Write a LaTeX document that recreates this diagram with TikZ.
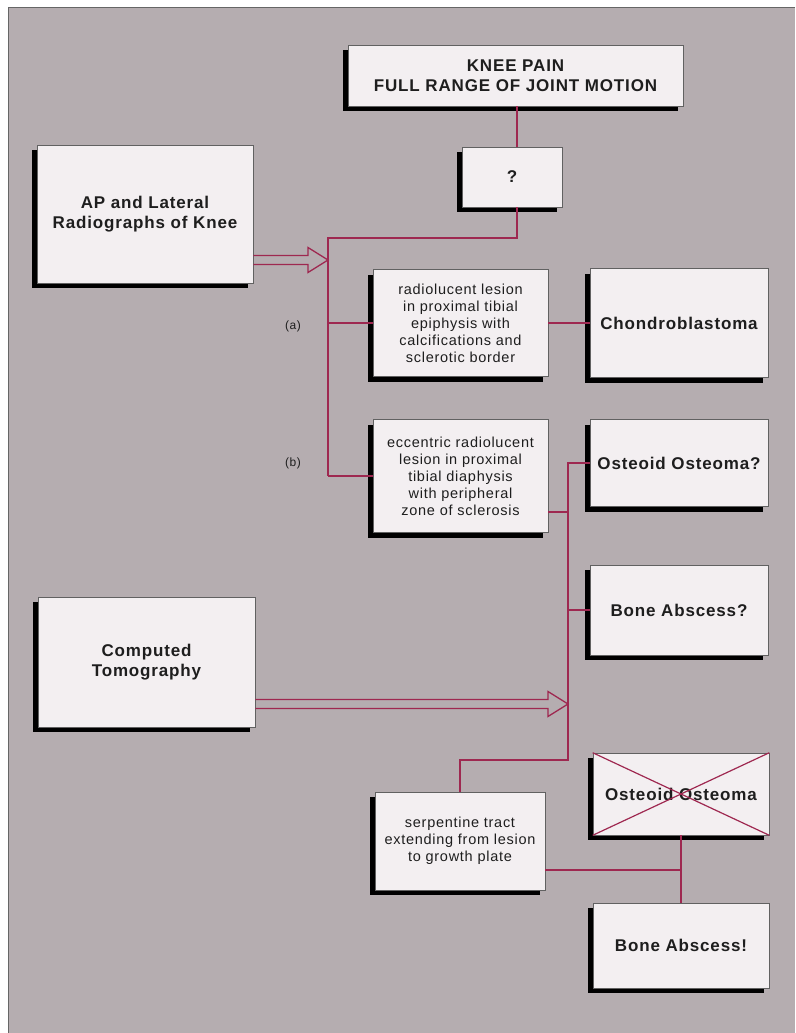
\documentclass[tikz,border=0pt]{standalone}
\usepackage{fontspec}
\setmainfont{Liberation Sans}[LetterSpace=5]
\usetikzlibrary{shadows}
\definecolor{panel}{HTML}{B5ADB0}
\definecolor{boxfill}{HTML}{F3EFF1}
\definecolor{wire}{HTML}{9E2850}
\definecolor{ink}{HTML}{1E1E1E}
\tikzset{
  card/.style={draw=ink!70, line width=0.6pt, fill=boxfill, text=ink,
    align=center, inner sep=2pt,
    drop shadow={shadow xshift=-5pt, shadow yshift=-5pt, opacity=1, fill=black}},
  bigcard/.style={card, font=\fontsize{17}{20}\selectfont\bfseries},
  notecard/.style={card, font=\fontsize{14.5}{17}\selectfont},
  wire/.style={draw=wire, line width=1.6pt},
  hollowline/.style={draw=wire, line width=1.3pt, line join=miter},
  tag/.style={text=ink, font=\fontsize{12}{14}\selectfont}
}
\begin{document}
\begin{tikzpicture}[x=1pt, y=-1pt]
  % page and grey panel
  \useasboundingbox (0,0) rectangle (795,1033);
  \fill[white] (0,0) rectangle (795,1033);
  \fill[panel] (8,8) rectangle (795,1033);
  \draw[black!60, line width=1pt] (8,1033) -- (8,8) -- (795,8);

  % boxes
  \node[bigcard, minimum width=335, minimum height=61] (knee) at (515.5,75.5)
    {KNEE PAIN\\FULL RANGE OF JOINT MOTION};
  \node[bigcard, minimum width=100, minimum height=60] (q) at (512,177) {?};
  \node[bigcard, minimum width=216, minimum height=138] (ap) at (145,214)
    {AP and Lateral\\Radiographs of Knee};
  \node[notecard, minimum width=175, minimum height=107] (rad) at (460.5,323)
    {radiolucent lesion\\in proximal tibial\\epiphysis with\\calcifications and\\sclerotic border};
  \node[bigcard, minimum width=178, minimum height=109] (chon) at (679,323)
    {Chondroblastoma};
  \node[notecard, minimum width=175, minimum height=113] (ecc) at (460.5,476)
    {eccentric radiolucent\\lesion in proximal\\tibial diaphysis\\with peripheral\\zone of sclerosis};
  \node[bigcard, minimum width=178, minimum height=87] (ost1) at (679,463)
    {Osteoid Osteoma?};
  \node[bigcard, minimum width=178, minimum height=90] (abs1) at (679,610)
    {Bone Abscess?};
  \node[bigcard, minimum width=217, minimum height=130] (ct) at (146.5,662)
    {Computed\\Tomography};
  \node[notecard, minimum width=170, minimum height=98] (serp) at (460,841)
    {serpentine tract\\extending from lesion\\to growth plate};
  \node[bigcard, minimum width=176, minimum height=82] (ost2) at (681,794)
    {Osteoid Osteoma};
  \node[bigcard, minimum width=176, minimum height=85] (abs2) at (681,945.5)
    {Bone Abscess!};

  % branch labels
  \node[tag] (la) at (293,326) {(a)};
  \node[tag] (lb) at (293,463) {(b)};

  % junction points
  \coordinate (j1) at (517,238);
  \coordinate (tr) at (328,238);
  \coordinate (apt) at (328,260);
  \coordinate (t2) at (568,462);
  \coordinate (eccj) at (568,512);
  \coordinate (ctj) at (568,704);
  \coordinate (t2b) at (568,760);
  \coordinate (sj) at (681,870);

  % first tree
  \draw[wire] (knee.south -| j1) -- (q.north -| j1);
  \draw[wire] (q.south -| j1) -- (j1) -- (tr) -- (tr |- ecc.west);
  \draw[wire] (rad.west) -- (rad.west -| tr);
  \draw[wire] (ecc.west) -- (ecc.west -| tr);
  \draw[wire] (rad.east) -- (rad.east -| chon.west);
  % hollow double arrow from the radiographs box
  \draw[hollowline] ([shift={(0,-4.5)}]ap.east |- apt) -- ([shift={(-20,-4.5)}]apt)
    -- ([shift={(-20,-12.5)}]apt) -- (apt) -- ([shift={(-20,12.5)}]apt)
    -- ([shift={(-20,4.5)}]apt) -- ([shift={(0,4.5)}]ap.east |- apt);

  % second tree
  \draw[wire] (t2) -- (t2b) -- (t2b -| serp.north) -- (serp.north);
  \draw[wire] (ost1.west) -- (ost1.west -| t2);
  \draw[wire] (abs1.west) -- (abs1.west -| t2);
  \draw[wire] (ecc.east |- eccj) -- (eccj);
  % hollow double arrow from the tomography box
  \draw[hollowline] ([shift={(0,-4.5)}]ct.east |- ctj) -- ([shift={(-20,-4.5)}]ctj)
    -- ([shift={(-20,-12.5)}]ctj) -- (ctj) -- ([shift={(-20,12.5)}]ctj)
    -- ([shift={(-20,4.5)}]ctj) -- ([shift={(0,4.5)}]ct.east |- ctj);

  % third tree
  \draw[wire] (ost2.south) -- (abs2.north);
  \draw[wire] (serp.east |- sj) -- (sj);
  \draw[wire, line width=1.2pt] (ost2.north west) -- (ost2.south east);
  \draw[wire, line width=1.2pt] (ost2.south west) -- (ost2.north east);
\end{tikzpicture}
\end{document}
